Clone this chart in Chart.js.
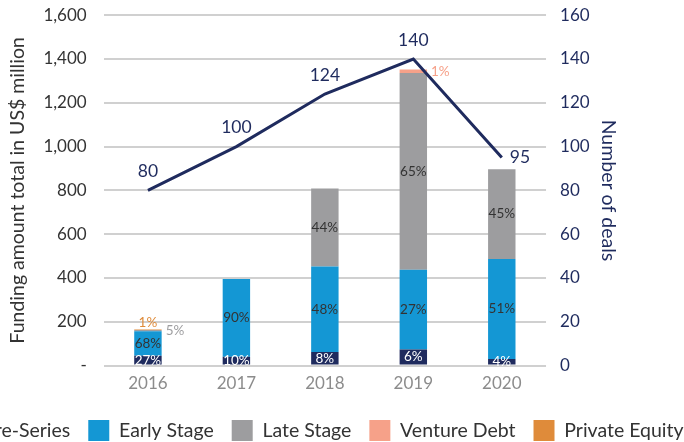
<!DOCTYPE html>
<html>
<head>
<meta charset="utf-8">
<script src="https://cdn.jsdelivr.net/npm/chart.js@4"></script>
<style>
  html, body { margin: 0; padding: 0; background: #fff; overflow: hidden; }
  #wrap { position: absolute; left: -92px; top: -12px; width: 820px; height: 454px; }
</style>
</head>
<body>
<div id="wrap"><canvas id="chart" width="820" height="454"></canvas></div>
<script>
// Data (US$ million, number of deals)
const years = ['2016', '2017', '2018', '2019', '2020'];
const preSeries = [45, 40, 62, 74, 30];
const earlyStage = [112, 355, 390, 364, 457];
const lateStage = [6, 0, 357, 898, 410];
const ventureDebt = [0, 0, 0, 16, 0];
const privateEquity = [2, 0, 0, 0, 0];
const dealCount = [80, 100, 124, 140, 95];

// Share labels as printed on the bars
const preLabels = ['27%', '10%', '8%', '6%', '4%'];
const earlyLabels = ['68%', '90%', '48%', '27%', '51%'];
const lateLabels = ['5%', '', '44%', '65%', '45%'];
const ventureLabels = ['', '', '', '1%', ''];
const equityLabels = ['1%', '', '', '', ''];

const NAVY = '#1f2b5e';
const FONT = 'Lato, "DejaVu Sans", sans-serif';

const bar = (label, data, color, shares, textColor) => ({
  type: 'bar', label, data, backgroundColor: color, shares, textColor,
  yAxisID: 'y', stack: 'funding', order: 2,
  barPercentage: 0.31, categoryPercentage: 1
});

// Draws the % shares on the bars and the deal counts on the line
const labelPlugin = {
  id: 'labels',
  afterDraw(chart) {
    const ctx = chart.ctx;
    ctx.save();
    ctx.textAlign = 'center';
    ctx.textBaseline = 'middle';
    chart.data.datasets.forEach((ds, di) => {
      const meta = chart.getDatasetMeta(di);
      meta.data.forEach((el, i) => {
        if (ds.type === 'bar') {
          const txt = ds.shares[i];
          if (!txt) return;
          const h = el.base - el.y;
          const cy = (el.y + el.base) / 2;
          ctx.font = '13.5px ' + FONT;
          if (h < 8 && ds.label !== 'Pre-Series') {
            if (ds.label === 'Private Equity') {
              ctx.fillStyle = ds.backgroundColor;
              ctx.fillText(txt, el.x, el.y - 7);
            } else {
              ctx.fillStyle = ds.label === 'Late Stage' ? '#9d9d9f' : ds.backgroundColor;
              ctx.textAlign = 'left';
              ctx.fillText(txt, el.x + el.width / 2 + 4, cy);
              ctx.textAlign = 'center';
            }
          } else {
            ctx.fillStyle = ds.textColor;
            ctx.fillText(txt, el.x, cy);
          }
        } else {
          ctx.font = '17.5px ' + FONT;
          ctx.fillStyle = NAVY;
          if (i === meta.data.length - 1) {
            ctx.textAlign = 'left';
            ctx.fillText(String(ds.data[i]), el.x + 8, el.y);
            ctx.textAlign = 'center';
          } else {
            ctx.fillText(String(ds.data[i]), el.x, el.y - 19);
          }
        }
      });
    });
    ctx.restore();
  }
};

function draw() {
  new Chart(document.getElementById('chart'), {
    data: {
      labels: years,
      datasets: [
        {
          type: 'line', label: 'Number of deals', data: dealCount, yAxisID: 'y1',
          borderColor: NAVY, borderWidth: 3, pointRadius: 0, tension: 0, order: 1
        },
        bar('Pre-Series', preSeries, NAVY, preLabels, '#ffffff'),
        bar('Early Stage', earlyStage, '#1497d4', earlyLabels, '#333333'),
        bar('Late Stage', lateStage, '#9d9d9f', lateLabels, '#333333'),
        bar('Venture Debt', ventureDebt, '#f6a189', ventureLabels, '#333333'),
        bar('Private Equity', privateEquity, '#df8b3a', equityLabels, '#333333')
      ]
    },
    options: {
      responsive: false,
      animation: false,
      layout: { padding: { top: 0, bottom: -9 } },
      plugins: {
        tooltip: { enabled: false },
        legend: {
          position: 'bottom',
          labels: {
            font: { family: FONT, size: 19.5 },
            color: '#333333',
            boxWidth: 21,
            boxHeight: 21,
            padding: 18,
            filter: (item) => item.text !== 'Number of deals'
          }
        }
      },
      scales: {
        x: {
          stacked: true,
          grid: { display: false, drawTicks: false },
          border: { display: false },
          ticks: { color: '#8c8c8c', font: { family: FONT, size: 17 }, padding: 8 }
        },
        y: {
          stacked: true,
          min: 0, max: 1600,
          grid: { color: '#d0d0d0', lineWidth: 2, drawTicks: false },
          border: { display: false },
          ticks: {
            stepSize: 200, padding: 17, color: '#333333',
            font: { family: FONT, size: 17 },
            callback: (v) => v === 0 ? '-' : v.toLocaleString('en-US')
          },
          title: {
            display: true, text: 'Funding amount total in US$ million', color: '#333333',
            font: { family: FONT, size: 19.5 }, padding: { top: 98.5, bottom: -3.5 }
          }
        },
        y1: {
          position: 'right',
          min: 0, max: 160,
          grid: { display: false, drawTicks: false },
          border: { display: false },
          ticks: {
            stepSize: 20, padding: 14, color: NAVY,
            font: { family: FONT, size: 17 }
          },
          title: {
            display: true, text: 'Number of deals', color: NAVY,
            font: { family: FONT, size: 19.5 }, padding: { top: 108.5, bottom: -7.5 }
          }
        }
      }
    },
    plugins: [labelPlugin]
  });
}

// make sure Lato is ready before Chart.js measures text
if (document.fonts && document.fonts.load) {
  Promise.all([document.fonts.load('17px Lato'), document.fonts.load('13px Lato')])
    .then(draw, draw);
} else {
  draw();
}
</script>
</body>
</html>
